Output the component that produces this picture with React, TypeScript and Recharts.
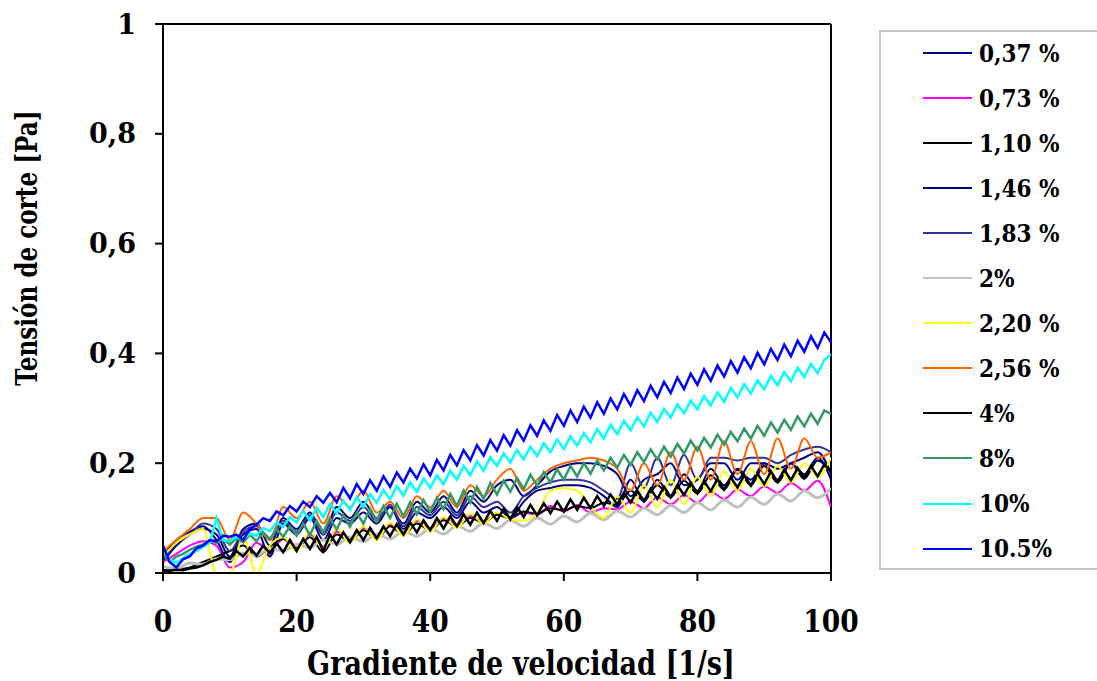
import React from 'react';
import { LineChart, Line, XAxis, YAxis, ReferenceLine, Label } from 'recharts';

// shear rate grids [1/s]
const shearFine = [
  0, 1, 2, 3, 4, 5, 6, 7, 8, 9, 10, 11, 12, 13, 14, 15, 16, 17, 18, 19,
  20, 21, 22, 23, 24, 25, 26, 27, 28, 29, 30, 31, 32, 33, 34, 35, 36, 37, 38, 39,
  40, 41, 42, 43, 44, 45, 46, 47, 48, 49, 50, 51, 52, 53, 54, 55, 56, 57, 58, 59,
  60, 61, 62, 63, 64, 65, 66, 67, 68, 69, 70, 71, 72, 73, 74, 75, 76, 77, 78, 79,
  80, 81, 82, 83, 84, 85, 86, 87, 88, 89, 90, 91, 92, 93, 94, 95, 96, 97, 98, 99, 100,
];
const shearCoarse = [
  0, 2, 4, 6, 8, 10, 12, 14, 16, 18, 20, 22, 24, 26, 28, 30, 32, 34, 36, 38,
  40, 42, 44, 46, 48, 50, 52, 54, 56, 58, 60, 62, 64, 66, 68, 70, 72, 74, 76, 78,
  80, 82, 84, 86, 88, 90, 92, 94, 96, 98, 100,
];

// shear stress [Pa]
const s037 = [
  0.02, 0.05, 0.07, 0.08, 0.07, 0.03, 0.08, 0.09, 0.05, 0.1,
  0.08, 0.11, 0.07, 0.12, 0.1, 0.13, 0.1, 0.12, 0.09, 0.13,
  0.11, 0.14, 0.11, 0.15, 0.13, 0.16, 0.17, 0.14, 0.16, 0.185,
  0.195, 0.2, 0.2, 0.195, 0.18, 0.14, 0.17, 0.18, 0.2, 0.16,
  0.17, 0.2, 0.2, 0.17, 0.2, 0.2, 0.19, 0.2, 0.21, 0.22,
  0.18,
];
const s073 = [
  0.02, 0.035, 0.05, 0.058, 0.05, 0.01, 0.02, 0.055, 0.04, 0.062,
  0.05, 0.07, 0.048, 0.075, 0.062, 0.082, 0.07, 0.088, 0.075, 0.095,
  0.082, 0.1, 0.088, 0.104, 0.094, 0.108, 0.1, 0.11, 0.106, 0.122,
  0.112, 0.124, 0.11, 0.118, 0.116, 0.13, 0.118, 0.138, 0.125, 0.142,
  0.128, 0.148, 0.135, 0.152, 0.14, 0.158, 0.146, 0.164, 0.15, 0.168,
  0.12,
];
const s110 = [
  0.004, 0.006, 0.01, 0.02, 0.03, 0.04, 0.05, 0.03, 0.048, 0.062,
  0.045, 0.065, 0.038, 0.07, 0.058, 0.078, 0.062, 0.085, 0.07, 0.09,
  0.078, 0.096, 0.085, 0.1, 0.092, 0.106, 0.1, 0.112, 0.108, 0.118,
  0.114, 0.122, 0.118, 0.128, 0.124, 0.15, 0.132, 0.16, 0.138, 0.168,
  0.145, 0.178, 0.152, 0.188, 0.16, 0.195, 0.165, 0.2, 0.172, 0.205,
  0.185,
];
const s146 = [
  0.03, 0.06, 0.075, 0.085, 0.06, 0.02, 0.07, 0.08, 0.03, 0.09,
  0.07, 0.1, 0.06, 0.1, 0.09, 0.11, 0.09, 0.12, 0.08, 0.11,
  0.1, 0.12, 0.1, 0.13, 0.11, 0.12, 0.1, 0.13, 0.15, 0.155,
  0.16, 0.16, 0.155, 0.14, 0.12, 0.17, 0.13, 0.17, 0.14, 0.18,
  0.15, 0.19, 0.16, 0.19, 0.17, 0.2, 0.17, 0.2, 0.18, 0.21,
  0.17,
];
const s183 = [
  0.025, 0.055, 0.07, 0.09, 0.08, 0.04, 0.075, 0.085, 0.06, 0.095,
  0.075, 0.105, 0.07, 0.11, 0.095, 0.12, 0.095, 0.125, 0.085, 0.12,
  0.105, 0.13, 0.105, 0.14, 0.12, 0.13, 0.11, 0.14, 0.155, 0.165,
  0.17, 0.17, 0.165, 0.15, 0.135, 0.2, 0.155, 0.21, 0.16, 0.215,
  0.17, 0.21, 0.21, 0.205, 0.21, 0.21, 0.2, 0.215, 0.225, 0.23,
  0.22,
];
const s200 = [
  0.012, 0.008, 0.018, 0.016, 0.026, 0.024, 0.036, 0.032, 0.045, 0.04,
  0.052, 0.046, 0.06, 0.052, 0.066, 0.057, 0.071, 0.062, 0.076, 0.067,
  0.081, 0.071, 0.086, 0.076, 0.091, 0.081, 0.096, 0.085, 0.1, 0.089,
  0.104, 0.093, 0.109, 0.097, 0.113, 0.102, 0.118, 0.106, 0.123, 0.11,
  0.128, 0.115, 0.133, 0.12, 0.138, 0.125, 0.144, 0.131, 0.15, 0.137,
  0.155,
];
const s220 = [
  0.03, 0.055, 0.07, 0.08, 0.0, 0.0, 0.065, 0.0, 0.05, 0.065,
  0.04, 0.075, 0.045, 0.08, 0.055, 0.085, 0.06, 0.092, 0.068, 0.098,
  0.075, 0.102, 0.082, 0.108, 0.09, 0.11, 0.098, 0.095, 0.11, 0.15,
  0.155, 0.15, 0.12, 0.1, 0.14, 0.11, 0.16, 0.12, 0.17, 0.125,
  0.175, 0.14, 0.185, 0.15, 0.19, 0.158, 0.195, 0.165, 0.2, 0.175,
  0.21,
];
const s256 = [
  0.04, 0.06, 0.08, 0.1, 0.1, 0.06, 0.11, 0.09, 0.06, 0.12,
  0.1, 0.13, 0.09, 0.14, 0.12, 0.15, 0.11, 0.13, 0.1, 0.14,
  0.12, 0.15, 0.12, 0.16, 0.14, 0.17, 0.19, 0.15, 0.17, 0.19,
  0.2, 0.205, 0.21, 0.205, 0.19, 0.15, 0.2, 0.16, 0.22, 0.17,
  0.23, 0.17, 0.24, 0.18, 0.24, 0.18, 0.245, 0.19, 0.245, 0.21,
  0.22,
];
const s400 = [
  0.005, 0.004, 0.006, 0.005, 0.008, 0.01, 0.014, 0.02, 0.024, 0.03,
  0.026, 0.04, 0.03, 0.046, 0.032, 0.05, 0.036, 0.054, 0.038, 0.06,
  0.04, 0.062, 0.044, 0.066, 0.04, 0.07, 0.052, 0.074, 0.056, 0.078,
  0.06, 0.082, 0.063, 0.085, 0.067, 0.089, 0.07, 0.092, 0.074, 0.096,
  0.078, 0.1, 0.081, 0.103, 0.085, 0.107, 0.088, 0.11, 0.091, 0.113,
  0.095, 0.117, 0.098, 0.12, 0.102, 0.124, 0.105, 0.127, 0.109, 0.13,
  0.112, 0.134, 0.115, 0.137, 0.118, 0.14, 0.122, 0.143, 0.125, 0.146,
  0.128, 0.15, 0.131, 0.153, 0.135, 0.157, 0.138, 0.16, 0.142, 0.164,
  0.145, 0.167, 0.149, 0.171, 0.152, 0.174, 0.156, 0.178, 0.159, 0.181,
  0.162, 0.185, 0.166, 0.188, 0.169, 0.191, 0.173, 0.195, 0.176, 0.198,
  0.185,
];
const s800 = [
  0.035, 0.02, 0.03, 0.035, 0.042, 0.048, 0.052, 0.06, 0.055, 0.062,
  0.052, 0.064, 0.056, 0.07, 0.058, 0.074, 0.062, 0.08, 0.066, 0.085,
  0.068, 0.09, 0.069, 0.095, 0.074, 0.1, 0.079, 0.105, 0.084, 0.11,
  0.09, 0.117, 0.095, 0.122, 0.1, 0.126, 0.103, 0.129, 0.107, 0.133,
  0.111, 0.137, 0.116, 0.144, 0.122, 0.15, 0.128, 0.157, 0.135, 0.164,
  0.143, 0.168, 0.148, 0.173, 0.153, 0.179, 0.159, 0.184, 0.165, 0.189,
  0.17, 0.195, 0.176, 0.2, 0.181, 0.205, 0.187, 0.21, 0.192, 0.215,
  0.197, 0.22, 0.202, 0.225, 0.207, 0.23, 0.212, 0.235, 0.218, 0.241,
  0.223, 0.246, 0.229, 0.252, 0.234, 0.257, 0.24, 0.263, 0.245, 0.268,
  0.25, 0.274, 0.256, 0.279, 0.261, 0.285, 0.267, 0.29, 0.272, 0.296,
  0.29,
];
const s1000 = [
  0.04, 0.025, 0.018, 0.027, 0.035, 0.04, 0.048, 0.055, 0.1, 0.06,
  0.058, 0.066, 0.062, 0.072, 0.068, 0.082, 0.076, 0.092, 0.084, 0.102,
  0.092, 0.113, 0.096, 0.119, 0.102, 0.126, 0.109, 0.132, 0.115, 0.138,
  0.121, 0.144, 0.128, 0.151, 0.134, 0.158, 0.141, 0.165, 0.148, 0.172,
  0.155, 0.178, 0.162, 0.186, 0.17, 0.195, 0.178, 0.203, 0.186, 0.211,
  0.195, 0.218, 0.201, 0.224, 0.207, 0.23, 0.213, 0.236, 0.22, 0.243,
  0.226, 0.249, 0.232, 0.255, 0.238, 0.262, 0.245, 0.27, 0.253, 0.277,
  0.26, 0.284, 0.267, 0.292, 0.275, 0.299, 0.283, 0.307, 0.291, 0.314,
  0.298, 0.322, 0.305, 0.329, 0.312, 0.337, 0.32, 0.344, 0.327, 0.351,
  0.335, 0.359, 0.342, 0.366, 0.349, 0.374, 0.357, 0.381, 0.364, 0.388,
  0.398,
];
const s1050 = [
  0.05, 0.02, 0.01, 0.025, 0.03, 0.045, 0.05, 0.06, 0.058, 0.068,
  0.066, 0.07, 0.06, 0.08, 0.088, 0.1, 0.095, 0.112, 0.105, 0.122,
  0.112, 0.13, 0.12, 0.14, 0.128, 0.146, 0.129, 0.155, 0.136, 0.162,
  0.144, 0.169, 0.15, 0.176, 0.157, 0.183, 0.165, 0.19, 0.172, 0.198,
  0.178, 0.206, 0.187, 0.215, 0.196, 0.224, 0.205, 0.233, 0.214, 0.242,
  0.223, 0.251, 0.232, 0.26, 0.241, 0.269, 0.25, 0.278, 0.259, 0.288,
  0.268, 0.296, 0.275, 0.303, 0.283, 0.311, 0.29, 0.318, 0.298, 0.326,
  0.305, 0.333, 0.313, 0.341, 0.32, 0.348, 0.328, 0.356, 0.335, 0.363,
  0.343, 0.371, 0.35, 0.378, 0.358, 0.386, 0.365, 0.393, 0.373, 0.401,
  0.38, 0.408, 0.388, 0.416, 0.395, 0.423, 0.403, 0.431, 0.41, 0.438,
  0.42,
];

const xTicks = [0, 20, 40, 60, 80, 100];
const yTicks = [0, 0.2, 0.4, 0.6, 0.8, 1];

const series = [
  { name: '0,37 %', color: '#000080', xs: shearCoarse, ys: s037, width: 2 },
  { name: '0,73 %', color: '#FF00FF', xs: shearCoarse, ys: s073, width: 2 },
  { name: '1,10 %', color: '#000000', xs: shearCoarse, ys: s110, width: 2 },
  { name: '1,46 %', color: '#000080', xs: shearCoarse, ys: s146, width: 2 },
  { name: '1,83 %', color: '#333399', xs: shearCoarse, ys: s183, width: 2 },
  { name: '2%', color: '#C0C0C0', xs: shearCoarse, ys: s200, width: 3 },
  { name: '2,20 %', color: '#FFFF00', xs: shearCoarse, ys: s220, width: 2 },
  { name: '2,56 %', color: '#FF6600', xs: shearCoarse, ys: s256, width: 2 },
  { name: '4%', color: '#000000', xs: shearFine, ys: s400, width: 2.5 },
  { name: '8%', color: '#339966', xs: shearFine, ys: s800, width: 2.5 },
  { name: '10%', color: '#00FFFF', xs: shearFine, ys: s1000, width: 2.5 },
  { name: '10.5%', color: '#0000FF', xs: shearFine, ys: s1050, width: 2.5 },
];

const serif = "'DejaVu Serif', serif";
const serifCond = "'DejaVu Serif Condensed', 'DejaVu Serif', serif";

const fmtY = (v: number) => (v === 0 || v === 1 ? String(v) : v.toFixed(1).replace('.', ','));

const XTick = (props: any) => {
  const { x, y, payload } = props;
  return (
    <text
      transform={`translate(${x},${y + 49}) scale(0.83,1)`}
      textAnchor="middle"
      fontFamily={serif}
      fontWeight="bold"
      fontSize={32}
      fill="#000"
    >
      {payload.value}
    </text>
  );
};

const XTitle = () => (
  <text
    transform="translate(521,675) scale(0.82,1)"
    textAnchor="middle"
    fontFamily={serif}
    fontWeight="bold"
    fontSize={33}
    fill="#000"
  >
    Gradiente de velocidad [1/s]
  </text>
);

const YTitle = () => (
  <text
    transform="translate(37,248) rotate(-90) scale(0.77,1)"
    textAnchor="middle"
    fontFamily={serif}
    fontWeight="bold"
    fontSize={30}
    fill="#000"
  >
    Tensión de corte [Pa]
  </text>
);

export default function App() {
  return (
    <div
      style={{
        position: 'absolute',
        left: 0,
        top: 0,
        width: 1097,
        height: 681,
        overflow: 'hidden',
        background: '#fff',
      }}
    >
      <LineChart width={1097} height={681} margin={{ top: 24, right: 266, bottom: 0, left: 0 }}>
        <XAxis
          type="number"
          dataKey="x"
          domain={[0, 100]}
          ticks={xTicks}
          tick={<XTick />}
          tickSize={8}
          tickMargin={2}
          height={108}
          axisLine={{ stroke: '#000', strokeWidth: 2 }}
          tickLine={{ stroke: '#000', strokeWidth: 2 }}
          allowDataOverflow
        >
          <Label content={<XTitle />} />
        </XAxis>
        <YAxis
          type="number"
          domain={[0, 1]}
          ticks={yTicks}
          tickFormatter={fmtY}
          width={163}
          tickSize={8}
          tickMargin={19}
          axisLine={{ stroke: '#000', strokeWidth: 2 }}
          tickLine={{ stroke: '#000', strokeWidth: 2 }}
          tick={{ fill: '#000', fontSize: 27, fontWeight: 'bold', fontFamily: serif }}
          allowDataOverflow
        >
          <Label content={<YTitle />} />
        </YAxis>
        <ReferenceLine y={1} stroke="#000" strokeWidth={2} />
        <ReferenceLine x={100} stroke="#000" strokeWidth={2} />
        {series.map((s) => (
          <Line
            key={s.name}
            data={s.xs.map((x, i) => ({ x, y: s.ys[i] }))}
            dataKey="y"
            type={s.xs === shearFine ? 'linear' : 'monotone'}
            stroke={s.color}
            strokeWidth={s.width}
            dot={false}
            activeDot={false}
            isAnimationActive={false}
          />
        ))}
      </LineChart>

      {/* legend box, right part is cut by the picture edge */}
      <div
        style={{
          position: 'absolute',
          left: 879,
          top: 30,
          width: 240,
          height: 540,
          border: '2px solid #c8c8c8',
          boxSizing: 'border-box',
        }}
      >
        {series.map((s, i) => (
          <div
            key={s.name}
            style={{
              position: 'absolute',
              left: 0,
              top: 6.3 + i * 45.02,
              height: 30,
              width: 230,
              display: 'flex',
              alignItems: 'center',
            }}
          >
            <div style={{ marginLeft: 42, width: 49, height: 2, background: s.color }} />
            <span
              style={{
                marginLeft: 7,
                fontFamily: serifCond,
                fontStretch: 'condensed',
                fontWeight: 'bold',
                fontSize: 24,
                color: '#000',
                whiteSpace: 'nowrap',
              }}
            >
              {s.name}
            </span>
          </div>
        ))}
      </div>
    </div>
  );
}
